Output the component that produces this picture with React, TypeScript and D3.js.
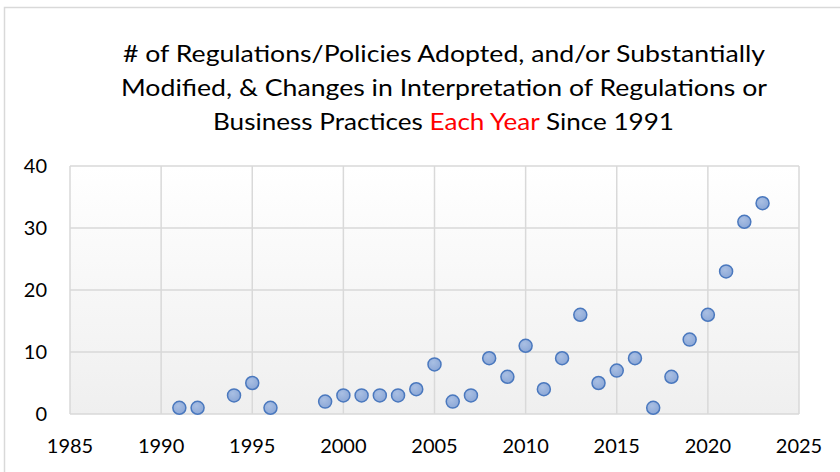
import React from 'react';
import * as d3 from 'd3';

// yearly counts
const years = [1991, 1992, 1994, 1995, 1996, 1999, 2000, 2001, 2002, 2003, 2004, 2005, 2006, 2007, 2008, 2009, 2010, 2011, 2012, 2013, 2014, 2015, 2016, 2017, 2018, 2019, 2020, 2021, 2022, 2023];
const counts = [1, 1, 3, 5, 1, 2, 3, 3, 3, 3, 4, 8, 2, 3, 9, 6, 11, 4, 9, 16, 5, 7, 9, 1, 6, 12, 16, 23, 31, 34];
const xTicks = [1985, 1990, 1995, 2000, 2005, 2010, 2015, 2020, 2025];
const yTicks = [0, 10, 20, 30, 40];

const width = 840;
const height = 472;
const marginLeft = 70;
const marginRight = 41;
const marginTop = 166;
const marginBottom = 58;

const App = () => {
  const x = d3.scaleLinear().domain([1985, 2025]).range([marginLeft, width - marginRight]);
  const y = d3.scaleLinear().domain([0, 40]).range([height - marginBottom, marginTop]);
  const font = 'Lato, "Open Sans", sans-serif';

  return (
    <svg width={width} height={height} style={{ position: 'absolute', left: 0, top: 0, background: '#fff' }}>
      <defs>
        <linearGradient id="plotBg" x1="0" y1="0" x2="0" y2="1">
          <stop offset="0" stopColor="#ffffff" />
          <stop offset="1" stopColor="#efefef" />
        </linearGradient>
        <radialGradient id="dot" cx="0.4" cy="0.35" r="0.7">
          <stop offset="0" stopColor="#a9bfe3" />
          <stop offset="1" stopColor="#8aa6d6" />
        </radialGradient>
      </defs>
      {/* chart frame */}
      <rect x={4.5} y={7.5} width={width} height={height} fill="none" stroke="#d9d9d9" strokeWidth={1.5} />

      {/* title, stretched to the widths of the original lines */}
      <text x={444} y={62} textAnchor="middle" fontFamily={font} fontSize={24} fill="#000" textLength={642} lengthAdjust="spacingAndGlyphs">
        # of Regulations/Policies Adopted, and/or Substantially
      </text>
      <text x={444} y={96} textAnchor="middle" fontFamily={font} fontSize={24} fill="#000" textLength={646} lengthAdjust="spacingAndGlyphs">
        Modified, &amp; Changes in Interpretation of Regulations or
      </text>
      <text x={443.5} y={130} textAnchor="middle" fontFamily={font} fontSize={24} fill="#000" textLength={461} lengthAdjust="spacingAndGlyphs">
        Business Practices <tspan fill="#ff0000">Each Year</tspan> Since 1991
      </text>

      <rect x={x(1985)} y={y(40)} width={x(2025) - x(1985)} height={y(0) - y(40)} fill="url(#plotBg)" />
      {yTicks.map(t => (
        <line key={'gy' + t} x1={x(1985)} x2={x(2025)} y1={y(t)} y2={y(t)} stroke="#d9d9d9" strokeWidth={1.5} />
      ))}
      {xTicks.map(t => (
        <line key={'gx' + t} x1={x(t)} x2={x(t)} y1={y(0)} y2={y(40)} stroke="#d9d9d9" strokeWidth={1.5} />
      ))}

      {yTicks.map(t => (
        <text key={'ly' + t} x={47} y={y(t)} dy="0.35em" textAnchor="end" fontFamily={font} fontSize={20} fill="#000">
          {t}
        </text>
      ))}
      {xTicks.map(t => (
        <text key={'lx' + t} x={x(t)} y={y(0) + 32} dy="0.35em" textAnchor="middle" fontFamily={font} fontSize={20} fill="#000">
          {t}
        </text>
      ))}

      {years.map((yr, i) => (
        <circle key={yr} cx={x(yr)} cy={y(counts[i])} r={6.5} fill="url(#dot)" stroke="#4a78be" strokeWidth={1.5} />
      ))}
    </svg>
  );
};

export default App;
